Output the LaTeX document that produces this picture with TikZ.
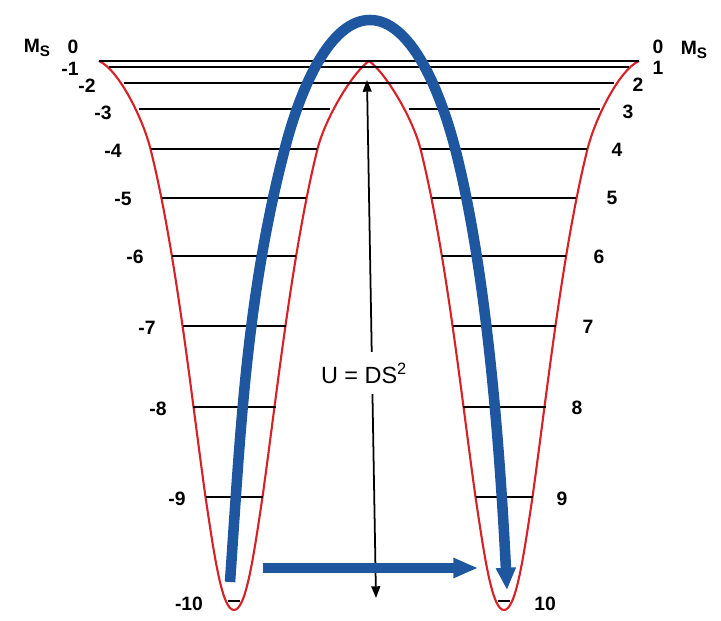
\documentclass[tikz,border=0pt]{standalone}
\usepackage{fontspec}
\setmainfont{Liberation Sans}
\usepackage{xcolor}
\usepackage{tikz}
\usetikzlibrary{arrows.meta}

\definecolor{wellred}{RGB}{214,34,38}
\definecolor{spinblue}{RGB}{30,86,160}

\begin{document}
\begin{tikzpicture}[x=0.03cm, y=-0.03cm,
    every node/.style={font=\fontsize{16.5}{18}\selectfont\bfseries, inner sep=0pt},
    well/.style={wellred, line width=1.8pt},
    level/.style={line width=2pt},
    flip/.style={spinblue, line width=9pt, -{Triangle[length=19pt, width=16pt]}},
    axisarrow/.style={line width=1.5pt, {Triangle[length=10pt, width=7.5pt]}-{Triangle[length=10pt, width=7.5pt]}}]
  \useasboundingbox (0,0) rectangle (721,621);

  % double well
  \draw[well] (99,61) .. controls (119,70) and (143,119) .. (150.5,149)
    .. controls (175.5,249) and (191.5,397) .. (205.5,497)
    .. controls (214.5,557) and (222,610) .. (234,610)
    .. controls (246,610) and (253.5,557) .. (262.5,497)
    .. controls (276.5,397) and (292.5,249) .. (317.5,149)
    .. controls (325,119) and (352,73) .. (369,61)
    .. controls (386,73) and (413,119) .. (420.5,149)
    .. controls (445.5,249) and (461.5,397) .. (475.5,497)
    .. controls (484.5,557) and (492,610) .. (504,610)
    .. controls (516,610) and (523.5,557) .. (532.5,497)
    .. controls (546.5,397) and (562.5,249) .. (587.5,149)
    .. controls (595,119) and (619,70) .. (639,61);

  % levels
  \draw[level] (99,61) -- (639,61);
  \draw[level] (109,67) -- (629,67);
  \draw[level] (124,83) -- (614,83);
  \foreach \u/\y in {95.5/109, 83/149, 72.3/198, 62/256, 51.5/326, 41.5/407, 28.5/497, 6/601} {
    \draw[level] (234-\u,\y) -- (234+\u,\y);
    \draw[level] (504-\u,\y) -- (504+\u,\y);
  }

  % M_S labels
  \node (msleft) at (37,48) {M\raisebox{-0.35ex}{\fontsize{13}{14}\selectfont S}};
  \node (msright) at (694,50) {M\raisebox{-0.35ex}{\fontsize{13}{14}\selectfont S}};
  \foreach \t/\x/\y [count=\i] in {0/73/47, -1/70/69, -2/87/86, -3/103/113, -4/113/151, -5/123/199,
      -6/135/257, -7/147/328, -8/158/409, -9/177/499, -10/189/604}
    \node (left\i) at (\x,\y) {\t};
  \foreach \t/\x/\y [count=\i] in {0/658/47, 1/658/68, 2/638/85, 3/628/112, 4/617/150, 5/612/198,
      6/599/257, 7/588/327, 8/577/408, 9/562/499, 10/545/604}
    \node (right\i) at (\x,\y) {\t};

  % barrier height
  \coordinate (utop) at (367,80);
  \coordinate (ubot) at (376,598);
  \draw[axisarrow] (utop) -- (ubot);
  \node[font=\fontsize{20}{23}\selectfont, fill=white, inner xsep=2pt, inner ysep=9pt] (barrier) at (364,373) {U = DS\textsuperscript{2}};

  % reversal paths
  \coordinate (flipstart) at (230,582);
  \coordinate (flipend) at (507,590);
  \draw[flip] (flipstart) .. controls (240.5,432) and (246,298) .. (285,148)
    .. controls (300.6,88) and (330,20) .. (370,20)
    .. controls (410,20) and (439.4,88) .. (455,148)
    .. controls (486,268) and (499.5,440) .. (flipend);
  \coordinate (hopstart) at (263,568);
  \coordinate (hopend) at (478,568);
  \draw[flip, -{Triangle[length=21pt, width=16pt]}] (hopstart) -- (hopend);
\end{tikzpicture}
\end{document}
